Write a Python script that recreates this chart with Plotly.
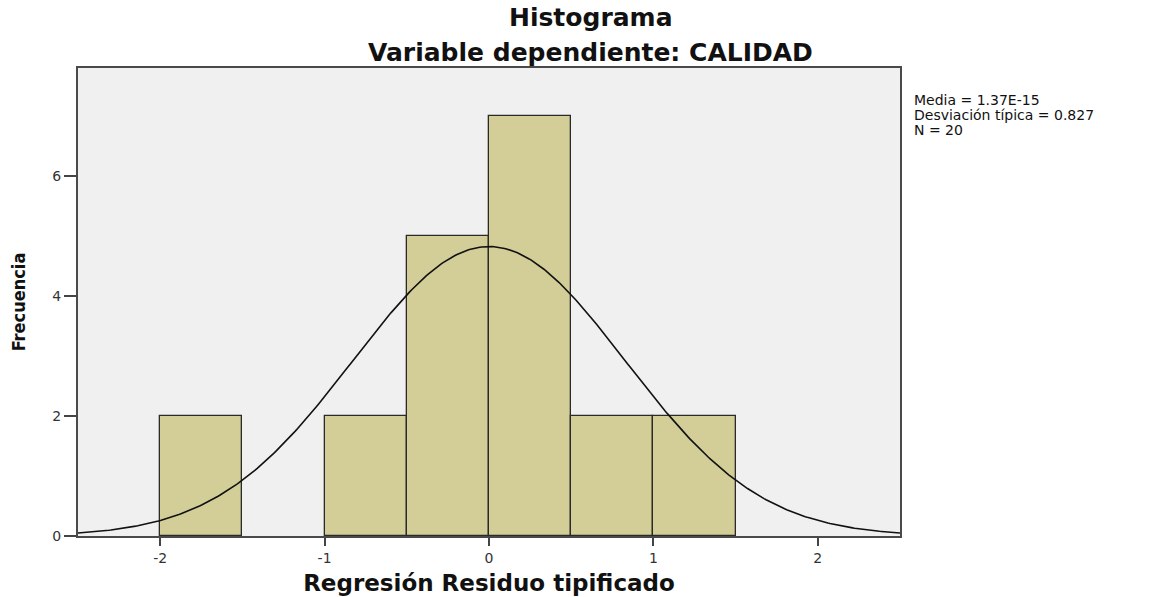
import numpy as np
import plotly.graph_objects as go

bin_left = [-2.0, -1.0, -0.5, 0.0, 0.5, 1.0]
bin_width = 0.5
counts = [2, 2, 5, 7, 2, 2]
mean = 1.37e-15
sd = 0.827
n = 20

x_ticks = [-2, -1, 0, 1, 2]
y_ticks = [0, 2, 4, 6]

stats_lines = ["Media = 1.37E-15", f"Desviación típica = {sd}", f"N = {n}"]

centers = [b + bin_width / 2 for b in bin_left]

xs = np.linspace(-2.5, 2.5, 400)
ys = n * bin_width * np.exp(-0.5 * ((xs - mean) / sd) ** 2) / (sd * np.sqrt(2 * np.pi))

fig = go.Figure()
fig.add_trace(go.Bar(
    x=centers, y=counts, width=bin_width,
    marker=dict(color="#d3cd97", line=dict(color="#2a2a2a", width=1.3)),
    hoverinfo="skip", showlegend=False,
))
fig.add_trace(go.Scatter(
    x=xs, y=ys, mode="lines",
    line=dict(color="#111111", width=1.6),
    hoverinfo="skip", showlegend=False,
))

wide = "DejaVu Sans, Verdana, sans-serif"
title_x = 0.624

annotations = [
    dict(text="<b>Histograma</b>", xref="paper", yref="paper", x=title_x, y=1,
         yshift=51, xanchor="center", yanchor="middle", showarrow=False,
         font=dict(size=25, color="#111111", family=wide)),
    dict(text="<b>Variable dependiente: CALIDAD</b>", xref="paper", yref="paper", x=title_x, y=1,
         yshift=16, xanchor="center", yanchor="middle", showarrow=False,
         font=dict(size=25, color="#111111", family=wide)),
]
for i, line in enumerate(stats_lines):
    annotations.append(dict(
        text=line, xref="paper", yref="paper", x=1, y=1, xshift=12,
        yshift=-32 - 15 * i, xanchor="left", yanchor="middle",
        align="left", showarrow=False,
        font=dict(size=14, color="#111111", family=wide)))

fig.update_layout(
    width=1156, height=597,
    margin=dict(l=78, r=256, t=68, b=61),
    paper_bgcolor="white",
    plot_bgcolor="#f0f0f0",
    bargap=0,
    font=dict(family=wide, color="#222222"),
    xaxis=dict(
        range=[-2.5, 2.5], tickvals=x_ticks, ticktext=[str(v) for v in x_ticks],
        ticks="outside", ticklen=8, tickwidth=1.5, tickcolor="#444444",
        showline=True, linecolor="#4a4a4a", linewidth=2, mirror=True,
        showgrid=False, zeroline=False, automargin=False,
        tickfont=dict(size=14, color="#333333"),
        title=dict(text="<b>Regresión Residuo tipificado</b>",
                   font=dict(size=23, color="#111111", family=wide), standoff=10),
    ),
    yaxis=dict(
        range=[0, 7.8], tickvals=y_ticks, ticktext=[str(v) for v in y_ticks],
        ticks="outside", ticklen=12, tickwidth=1.5, tickcolor="#444444",
        showline=True, linecolor="#4a4a4a", linewidth=2, mirror=True,
        showgrid=False, zeroline=False, automargin=False,
        tickfont=dict(size=14, color="#333333"),
        title=dict(text="<b>Frecuencia</b>", font=dict(size=18, color="#111111",
                   family="Liberation Sans Narrow, DejaVu Sans Condensed, Arial Narrow, Liberation Sans, sans-serif"),
                   standoff=22),
    ),
    annotations=annotations,
)

fig.write_html("out.html", config={"displayModeBar": False},
               post_script="document.body.style.margin='0px';")
